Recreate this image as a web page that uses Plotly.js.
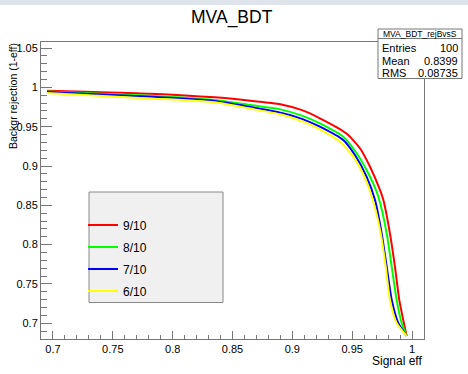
<!DOCTYPE html>
<html>
<head>
<meta charset="utf-8">
<script src="https://cdn.plot.ly/plotly-3.0.1.min.js"></script>
<style>
html,body{margin:0;padding:0;background:#fff;}
#chart{width:468px;height:374px;}
</style>
</head>
<body>
<div id="chart"></div>
<script>
// ---- data ----
const seriesNames = ["9/10", "8/10", "7/10", "6/10"];
const seriesColors = ["#ff0000", "#00ff00", "#0000ff", "#ffff00"];

const eff_9 = [0.695, 0.781, 0.835, 0.865, 0.890, 0.908, 0.923, 0.945, 0.9565, 0.9648, 0.9732, 0.976, 0.9815, 0.9857, 0.9893, 0.9926, 0.9955];
const rej_9 = [0.9957, 0.9919, 0.9873, 0.983, 0.9786, 0.971, 0.9607, 0.9416, 0.9226, 0.8993, 0.8697, 0.857, 0.8147, 0.7723, 0.730, 0.7047, 0.684];

const eff_8 = [0.695, 0.781, 0.835, 0.865, 0.890, 0.908, 0.923, 0.9425, 0.9537, 0.9648, 0.9718, 0.9788, 0.983, 0.9871, 0.9913, 0.9955];
const rej_8 = [0.9948, 0.9893, 0.9839, 0.9775, 0.972, 0.964, 0.9543, 0.9373, 0.9162, 0.8866, 0.8612, 0.8147, 0.7723, 0.730, 0.7005, 0.684];

const eff_7 = [0.695, 0.781, 0.835, 0.865, 0.890, 0.908, 0.923, 0.9425, 0.9523, 0.962, 0.969, 0.9746, 0.9788, 0.983, 0.9885, 0.9955];
const rej_7 = [0.994, 0.988, 0.9826, 0.975, 0.9678, 0.960, 0.950, 0.9331, 0.914, 0.8866, 0.857, 0.8147, 0.7723, 0.730, 0.7005, 0.684];

const eff_6 = [0.695, 0.781, 0.835, 0.865, 0.890, 0.908, 0.923, 0.9398, 0.9509, 0.9607, 0.9676, 0.9738, 0.978, 0.9815, 0.9871, 0.9955];
const rej_6 = [0.993, 0.986, 0.981, 0.973, 0.9657, 0.957, 0.9467, 0.931, 0.912, 0.8845, 0.8548, 0.8147, 0.7723, 0.730, 0.7005, 0.684];

const statsTitle = "MVA_BDT_rejBvsS";
const statsLabels = ["Entries", "Mean", "RMS"];
const statsValues = ["100", "0.8399", "0.08735"];

// ---- build chart ----
const xs = [eff_9, eff_8, eff_7, eff_6];
const ys = [rej_9, rej_8, rej_7, rej_6];
const FONT = "Liberation Sans, Arial, Helvetica, sans-serif";

const traces = seriesNames.map((n, i) => ({
  type: "scatter", mode: "lines", name: n,
  x: xs[i], y: ys[i],
  line: {color: seriesColors[i], width: 2, shape: "spline", smoothing: 0.6},
  legendgroup: "g" + i
}));

// pixel helpers for decoration placement (paper coords)
const L = 41, R = 424, T = 42, B = 339;
const px = v => (v - L) / (R - L);
const py = v => (B - v) / (B - T);

const annotations = [
  {text: "Backgr rejection (1-eff)", textangle: -90, xref: "paper", yref: "paper",
   x: px(13), y: py(41), xanchor: "center", yanchor: "top", showarrow: false,
   font: {family: FONT, size: 10.5, color: "#000"}},
  {text: "Signal eff", xref: "paper", yref: "paper", x: px(424), y: py(361),
   xanchor: "right", yanchor: "middle", showarrow: false,
   font: {family: FONT, size: 12, color: "#000"}},
  {text: statsTitle, xref: "paper", yref: "paper", x: px(420), y: py(34),
   xanchor: "center", yanchor: "middle", showarrow: false,
   font: {family: FONT, size: 8.5, color: "#000"}}
];
const rowY = [48, 60.5, 72.5];
statsLabels.forEach((lab, i) => {
  annotations.push({text: lab, xref: "paper", yref: "paper", x: px(380), y: py(rowY[i]),
    xanchor: "left", yanchor: "middle", showarrow: false,
    font: {family: FONT, size: 11, color: "#000"}});
  annotations.push({text: statsValues[i], xref: "paper", yref: "paper", x: px(460), y: py(rowY[i]),
    xanchor: "right", yanchor: "middle", showarrow: false,
    font: {family: FONT, size: 11, color: "#000"}});
});

const shapes = [
  // window band at the top
  {type: "rect", xref: "paper", yref: "paper", x0: px(0), x1: px(468), y0: py(5), y1: py(0),
   fillcolor: "#dfe3ea", line: {width: 0}, layer: "below"},
  // legend box
  {type: "rect", xref: "paper", yref: "paper", x0: px(89), x1: px(223), y0: py(302.5), y1: py(192),
   fillcolor: "#f0f0f0", line: {color: "#888", width: 1}, layer: "above"},
  // stats box
  {type: "rect", xref: "paper", yref: "paper", x0: px(378), x1: px(462), y0: py(78.5), y1: py(29),
   fillcolor: "#ffffff", line: {color: "#777", width: 1}, layer: "above"},
  {type: "line", xref: "paper", yref: "paper", x0: px(378), x1: px(462), y0: py(38.5), y1: py(38.5),
   line: {color: "#777", width: 1}}
];

const axisCommon = {
  showgrid: false, zeroline: false, showline: true, mirror: true,
  linecolor: "#777", linewidth: 1, ticks: "inside", tickcolor: "#777",
  tickfont: {family: FONT, size: 11, color: "#000"}
};

const layout = {
  width: 468, height: 374,
  margin: {l: L, r: 468 - R, t: T, b: 374 - B, pad: 0},
  paper_bgcolor: "#ffffff", plot_bgcolor: "#ffffff",
  title: {text: "MVA_BDT", x: 231.7 / 468, xanchor: "center", y: 1 - 17 / 374, yanchor: "middle",
          font: {family: FONT, size: 17.5, color: "#000"}},
  xaxis: Object.assign({}, axisCommon, {
    range: [0.69, 1.01], tick0: 0.7, dtick: 0.05, ticklen: 8,
    minor: {dtick: 0.01, tick0: 0.7, ticklen: 4, ticks: "inside", tickcolor: "#777"}
  }),
  yaxis: Object.assign({}, axisCommon, {
    range: [0.68, 1.0577], tick0: 0.7, dtick: 0.05, ticklen: 11,
    minor: {dtick: 0.01, tick0: 0.7, ticklen: 6, ticks: "inside", tickcolor: "#777"}
  }),
  showlegend: true,
  legend: {x: px(83), y: py(210.5), xanchor: "left", yanchor: "top",
           bgcolor: "rgba(0,0,0,0)", borderwidth: 0, traceorder: "grouped", tracegroupgap: 3,
           font: {family: FONT, size: 12, color: "#000"}},
  shapes: shapes,
  annotations: annotations
};

Plotly.newPlot("chart", traces, layout, {displayModeBar: false, staticPlot: true});
</script>
</body>
</html>
